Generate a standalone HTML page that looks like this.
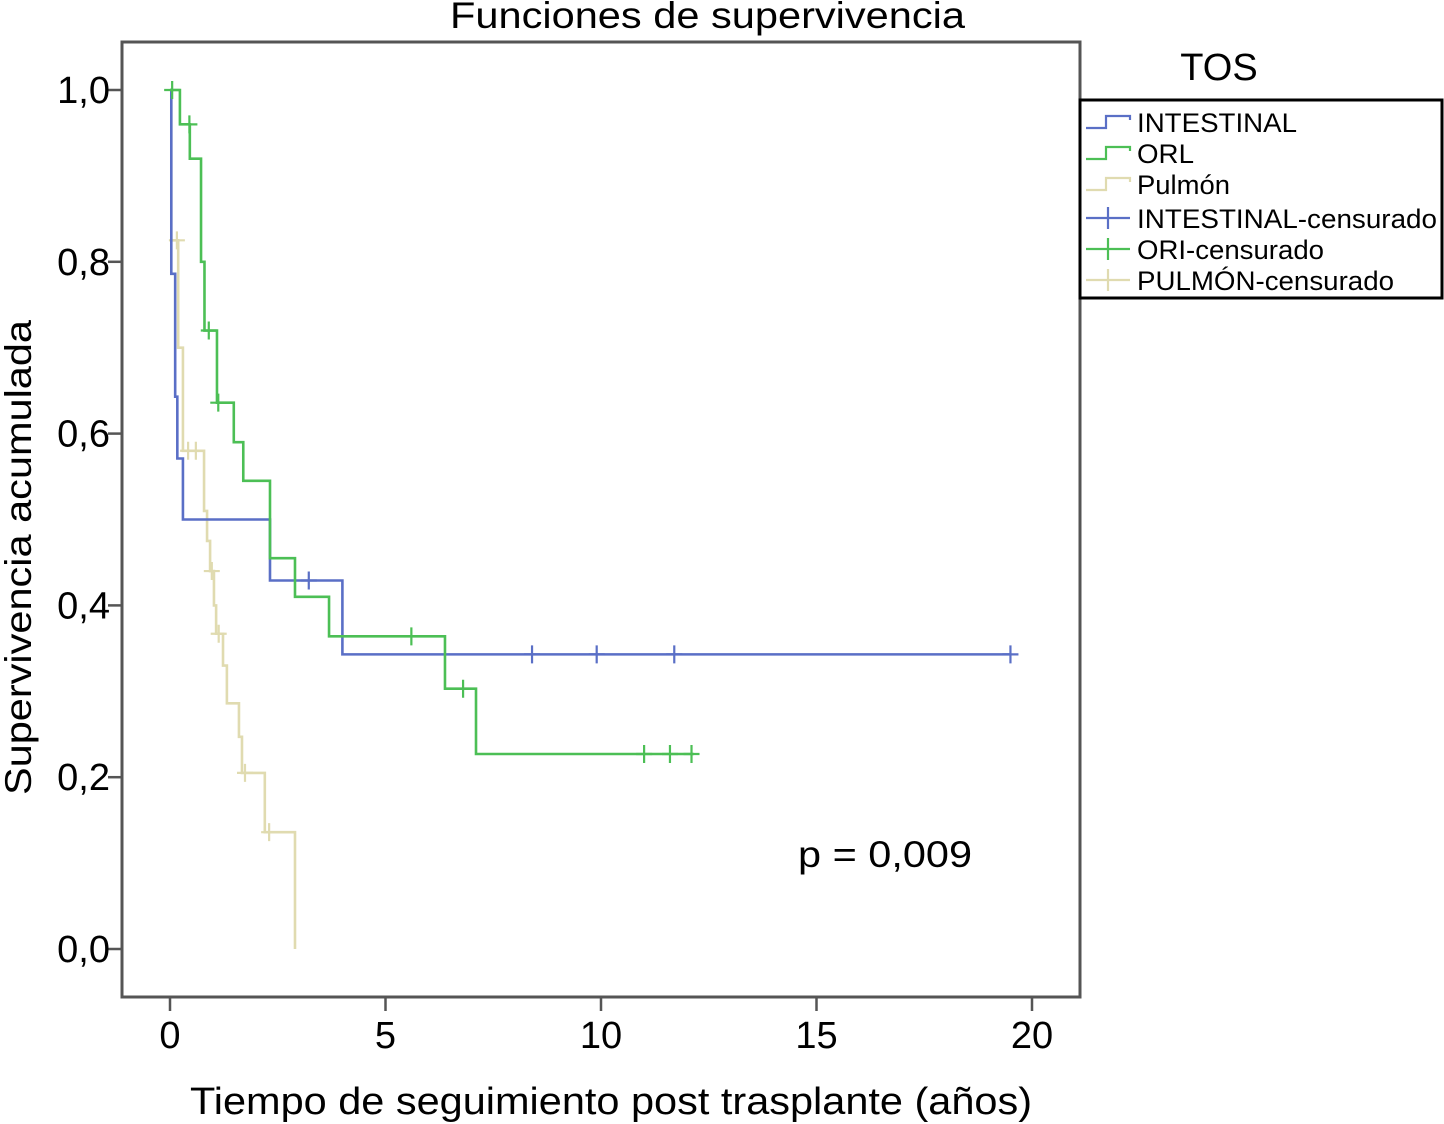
<!DOCTYPE html>
<html><head><meta charset="utf-8"><style>
html,body{margin:0;padding:0;background:#fff;}
svg{display:block;font-family:"Liberation Sans",sans-serif;}
</style></head><body>
<svg id="chart" width="1444" height="1124" viewBox="0 0 1444 1124">
<text x="450" y="28" font-size="37" textLength="515" lengthAdjust="spacingAndGlyphs">Funciones de supervivencia</text>
<rect x="122" y="42" width="958" height="955" fill="none" stroke="#555" stroke-width="3"/>
<g id="axes"></g>
<g id="series"></g>
<text x="798" y="867" font-size="37" textLength="174" lengthAdjust="spacingAndGlyphs">p = 0,009</text>
<text x="190" y="1114" font-size="38" textLength="842" lengthAdjust="spacingAndGlyphs">Tiempo de seguimiento post trasplante (años)</text>
<text transform="translate(31,795) rotate(-90)" font-size="37" textLength="475" lengthAdjust="spacingAndGlyphs">Supervivencia acumulada</text>
<text x="1219" y="80" font-size="38" text-anchor="middle">TOS</text>
<g>
<rect x="1080" y="100" width="362" height="198" fill="#fff" stroke="#000" stroke-width="3"/>
<g id="legend-items"></g>
</g>
</svg>
<script>
const xTicks=[0,5,10,15,20];
const yTicks=[0,0.2,0.4,0.6,0.8,1.0];
const yTickLabels=["0,0","0,2","0,4","0,6","0,8","1,0"];
const intTimes=[0.03,0.12,0.17,0.3,2.32,4.0];
const intSurv=[0.786,0.643,0.571,0.5,0.429,0.343];
const intEnd=19.5;
const intCensT=[3.22,8.4,9.9,11.7,19.5];
const orlTimes=[0.23,0.46,0.72,0.8,1.09,1.48,1.7,2.32,2.9,3.69,6.38,7.1];
const orlSurv=[0.96,0.92,0.80,0.72,0.636,0.59,0.545,0.455,0.41,0.364,0.303,0.227];
const orlEnd=12.15;
const orlCensT=[0.05,0.45,0.9,1.12,5.6,6.8,11.0,11.6,12.1];
const pulTimes=[0.03,0.19,0.3,0.79,0.86,0.93,1.02,1.07,1.23,1.32,1.6,1.67,2.2,2.9];
const pulSurv=[0.825,0.70,0.58,0.51,0.475,0.44,0.40,0.367,0.33,0.286,0.247,0.205,0.136,0];
const pulEnd=2.9;
const pulCensT=[0.16,0.42,0.6,0.97,1.13,1.74,2.3];

const NS="http://www.w3.org/2000/svg";
const X=t=>170+t*43.1;
const Y=s=>949-s*859;
function mk(tag,attrs,parent){const e=document.createElementNS(NS,tag);for(const k in attrs)e.setAttribute(k,attrs[k]);parent.appendChild(e);return e;}
const axes=document.getElementById('axes');
xTicks.forEach((t)=>{
  const l=mk('line',{x1:X(t),x2:X(t),y1:997,y2:1011,stroke:'#555','stroke-width':2.5},axes);
  
  
  const tx=mk('text',{x:X(t),y:1048,'font-size':38,'text-anchor':'middle'},axes);
  tx.textContent=String(t);
  
  
});
yTicks.forEach((v,i)=>{
  const l=mk('line',{x1:108,x2:122,y1:Y(v),y2:Y(v),stroke:'#555','stroke-width':2.5},axes);
  
  
  const tx=mk('text',{x:110,y:Y(v)+13,'font-size':38,'text-anchor':'end'},axes);
  tx.textContent=yTickLabels[i];
  
  
});
function survAt(times,surv,t){let s=1;for(let i=0;i<times.length;i++){if(times[i]<=t)s=surv[i];}return s;}
const series=document.getElementById('series');
function draw(name,times,surv,end,cens,color){
  let d='M'+X(0)+' '+Y(1);
  for(let i=0;i<times.length;i++){d+=' H'+X(times[i])+' V'+Y(surv[i]);}
  if(end>times[times.length-1])d+=' H'+X(end);
  const p=mk('path',{d:d,fill:'none',stroke:color,'stroke-width':2.6},series);
  
  
  cens.forEach(t=>{
    const v=survAt(times,surv,t);
    const g=mk('path',{d:'M'+(X(t)-8)+' '+Y(v)+' H'+(X(t)+8)+' M'+X(t)+' '+(Y(v)-9)+' V'+(Y(v)+9),stroke:color,'stroke-width':2.2,fill:'none'},series);
    
    
  });
}
draw('pulmon',pulTimes,pulSurv,pulEnd,pulCensT,'#e0dbb0');
draw('intestinal',intTimes,intSurv,intEnd,intCensT,'#5a6fc6');
draw('orl',orlTimes,orlSurv,orlEnd,orlCensT,'#4cbf55');
const li=document.getElementById('legend-items');
const legendLabels=["INTESTINAL","ORL","Pulmón","INTESTINAL-censurado","ORI-censurado","PULMÓN-censurado"];
const legendColors=["#5a6fc6","#4cbf55","#e0dbb0","#5a6fc6","#4cbf55","#e0dbb0"];
const legendWidths=[160,57,93,300,187,257];
const legendYs=[122,153,184,218,249,280];
legendLabels.forEach((lab,i)=>{
  const y=legendYs[i];
  const c=legendColors[i];
  if(i<3){
    const p=mk('path',{d:'M1086 '+(y+6)+' H1106 V'+(y-6)+' H1130 V'+(y-2),fill:'none',stroke:c,'stroke-width':2.2},li);
    
    
  } else {
    const p=mk('path',{d:'M1086 '+y+' H1130 M1108 '+(y-11)+' V'+(y+11),fill:'none',stroke:c,'stroke-width':2.2},li);
    
    
  }
  const t=mk('text',{x:1137,y:y+10,'font-size':27,textLength:legendWidths[i],lengthAdjust:'spacingAndGlyphs'},li);
  t.textContent=lab;
  
  
});
</script>
</body></html>
